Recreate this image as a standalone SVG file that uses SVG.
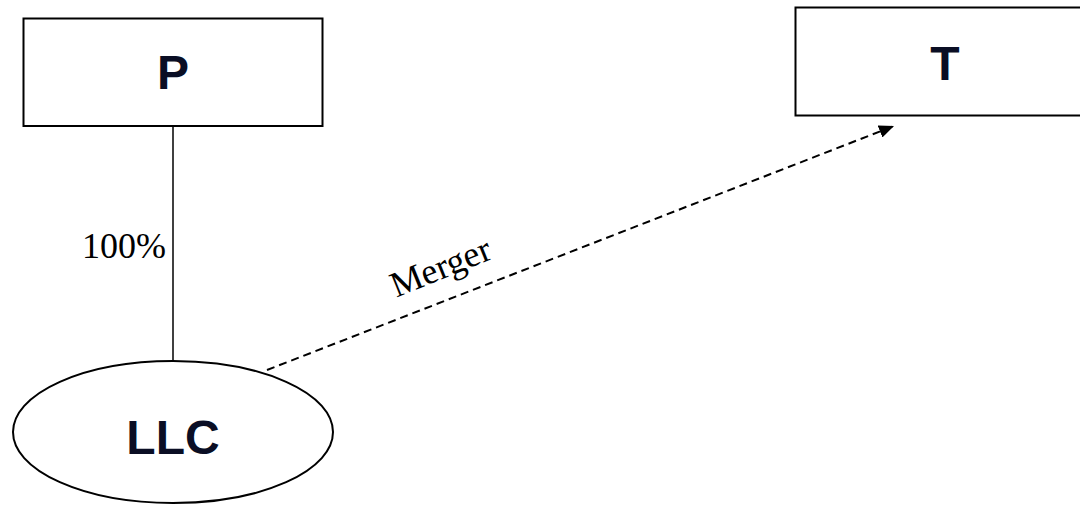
<svg xmlns="http://www.w3.org/2000/svg" width="1080" height="513" viewBox="0 0 1080 513">
<style>
.box{fill:#fff;stroke:#000;stroke-width:2}
.lbl{font-family:"Liberation Sans",Arial,sans-serif;font-weight:bold;font-size:48px;fill:#0a0e24;text-anchor:middle}
.edge{font-family:"Liberation Serif","Times New Roman",serif;font-size:36px;fill:#000}
.conn{stroke:#000;fill:none}
</style>
<defs>
<marker id="arrow" viewBox="0 0 10 10" refX="10" refY="5" markerWidth="15" markerHeight="13" markerUnits="userSpaceOnUse" orient="auto" preserveAspectRatio="none">
<path d="M0,0 L10,5 L0,10 z" fill="#000"/>
</marker>
</defs>
<rect width="1080" height="513" fill="#fff"/>
<g id="connectors">
<line class="conn" x1="173" y1="126" x2="173" y2="361" stroke-width="1.5"/>
<line class="conn" x1="267" y1="370" x2="894" y2="126" stroke-width="2" stroke-dasharray="8,5" marker-end="url(#arrow)"/>
<text class="edge" x="82" y="258">100%</text>
<text class="edge" x="445" y="278" text-anchor="middle" transform="rotate(-22 445 278)">Merger</text>
</g>
<g id="node-P">
<rect class="box" x="23.5" y="18.5" width="299" height="107.5"/>
<text class="lbl" x="173" y="89">P</text>
</g>
<g id="node-T">
<rect class="box" x="795.5" y="7.5" width="302" height="108"/>
<text class="lbl" x="945" y="80">T</text>
</g>
<g id="node-LLC">
<ellipse class="box" cx="173" cy="432" rx="160" ry="71" stroke-width="1.5"/>
<text class="lbl" x="173" y="454">LLC</text>
</g>
</svg>
